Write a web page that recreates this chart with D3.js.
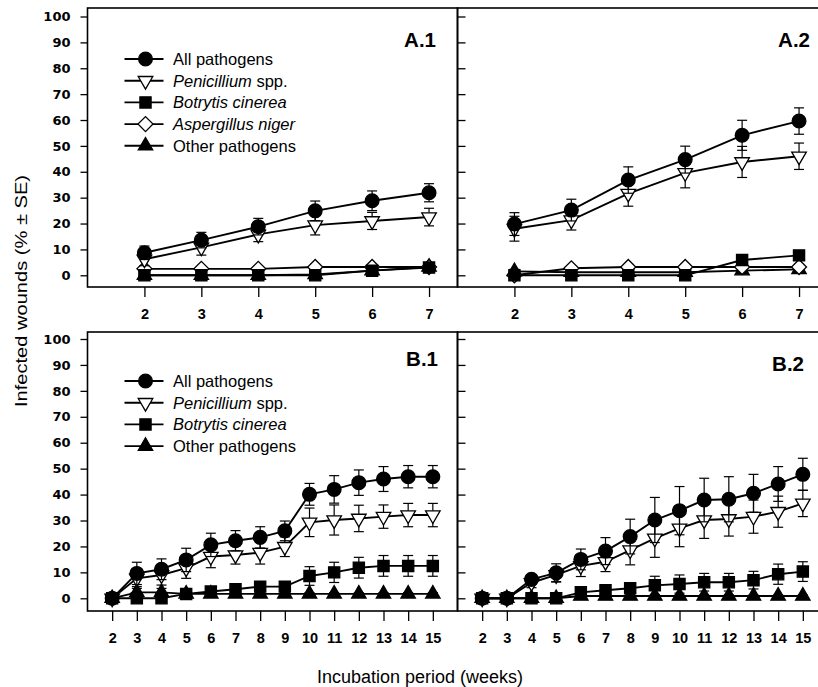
<!DOCTYPE html>
<html>
<head>
<meta charset="utf-8">
<script src="https://cdnjs.cloudflare.com/ajax/libs/d3/7.8.5/d3.min.js"></script>
<style>
  body { margin: 0; background: #fff; }
  svg { display: block; }
  .frame { fill: none; stroke: #000; stroke-width: 1.6; }
  .axis path { display: none; }
  .axis line { stroke: #000; stroke-width: 1.3; }
  .ylab text { font-family: "DejaVu Sans", sans-serif; font-weight: bold; font-size: 13px; fill: #000; }
  .xlab text { font-family: "Liberation Sans", Arial, sans-serif; font-weight: bold; font-size: 14.5px; fill: #000; }
  .series path.line { fill: none; stroke: #000; stroke-width: 1.9; }
  .err { stroke: #000; stroke-width: 1.2; }
  .legend text { font-family: "Liberation Sans", Arial, sans-serif; font-size: 16.5px; fill: #000; }
</style>
</head>
<body>
<div id="chart"></div>
<script>
// ---------------- DATA ----------------
var weeksA = [2, 3, 4, 5, 6, 7];
var weeksB = [2, 3, 4, 5, 6, 7, 8, 9, 10, 11, 12, 13, 14, 15];
var yTicks = [0, 10, 20, 30, 40, 50, 60, 70, 80, 90, 100];

// A.1
var a1All = [8.7, 13.6, 18.8, 24.9, 28.8, 31.9];
var a1AllSE = [2.6, 3.0, 3.2, 3.8, 3.8, 3.5];
var a1Pen = [6.2, 10.8, 15.8, 19.4, 21.0, 22.5];
var a1PenSE = [2.5, 3.0, 2.8, 3.8, 3.3, 3.4];
var a1Bot = [0, 0, 0, 0, 1.8, 3.0];
var a1BotSE = [0, 0, 0, 0, 0.8, 1.0];
var a1Asp = [2.5, 2.5, 2.5, 3.2, 3.2, 3.2];
var a1AspSE = [0.8, 0.8, 0.8, 1.0, 1.0, 1.0];
var a1Oth = [0, 0, 0, 0.3, 1.8, 3.2];
var a1OthSE = [0, 0, 0, 0.3, 0.8, 1.0];

// A.2
var a2All = [19.8, 25.2, 36.8, 44.7, 54.1, 59.6];
var a2AllSE = [4.4, 4.2, 5.1, 5.2, 5.8, 5.1];
var a2Pen = [18.0, 21.3, 31.6, 39.6, 43.8, 46.0];
var a2PenSE = [4.8, 3.8, 4.9, 5.8, 6.0, 5.1];
var a2Bot = [0, 0, 0, 0, 5.9, 7.7];
var a2BotSE = [0, 0, 0, 0, 1.2, 1.4];
var a2Asp = [0, 2.7, 3.2, 3.2, 3.2, 3.2];
var a2AspSE = [0, 0.9, 1.0, 1.0, 1.0, 1.0];
var a2Oth = [1.5, 1.2, 1.2, 1.2, 1.8, 2.3];
var a2OthSE = [0.8, 0.6, 0.6, 0.6, 0.8, 0.9];

// B.1
var b1All = [0, 9.6, 11.2, 14.8, 20.6, 22.2, 23.5, 26.0, 40.1, 42.0, 44.6, 46.0, 46.9, 46.9];
var b1AllSE = [0.5, 4.3, 4.0, 4.5, 4.5, 3.9, 4.1, 3.8, 4.2, 5.3, 4.9, 4.8, 4.3, 4.3];
var b1Pen = [0, 7.7, 9.0, 11.6, 16.1, 16.7, 17.6, 19.9, 29.3, 30.2, 30.8, 31.5, 32.1, 32.1];
var b1PenSE = [0.5, 3.2, 3.9, 3.9, 4.3, 3.5, 4.4, 3.8, 5.5, 5.8, 5.1, 4.5, 4.5, 4.5];
var b1Bot = [0, 0, 0, 1.7, 2.6, 3.5, 4.5, 4.5, 8.6, 10.0, 11.8, 12.5, 12.5, 12.5];
var b1BotSE = [0, 0, 0, 0.6, 0.8, 1.0, 1.2, 1.2, 3.6, 3.9, 4.0, 4.0, 4.0, 4.0];
var b1Oth = [0, 2.3, 2.3, 1.7, 1.7, 1.7, 1.7, 1.7, 1.7, 1.7, 1.7, 1.7, 1.7, 1.7];
var b1OthSE = [0, 1.5, 1.5, 0.5, 0.5, 0.5, 0.5, 0.5, 0.5, 0.5, 0.5, 0.5, 0.5, 0.5];

// B.2
var b2All = [0, 0, 7.3, 9.8, 15.0, 18.2, 23.8, 30.2, 33.8, 37.9, 38.2, 40.5, 44.1, 47.8];
var b2AllSE = [0.5, 0.5, 1.5, 3.5, 4.0, 5.2, 6.7, 8.7, 9.3, 8.4, 8.7, 7.3, 6.7, 6.2];
var b2Pen = [0, 0, 6.0, 9.0, 12.5, 14.1, 18.6, 23.1, 27.0, 30.2, 30.6, 31.5, 33.4, 36.6];
var b2PenSE = [0.5, 0.5, 1.9, 2.6, 4.1, 3.8, 5.7, 7.3, 7.1, 7.1, 6.6, 6.4, 6.0, 5.1];
var b2Bot = [0, 0, 0, 0, 2.3, 3.1, 3.9, 5.0, 5.5, 6.2, 6.2, 7.0, 9.3, 10.3];
var b2BotSE = [0, 0, 0, 0, 1.0, 1.2, 1.5, 3.5, 3.5, 3.4, 3.4, 3.4, 3.9, 3.8];
var b2Oth = [0, 0, 0, 0, 0.9, 0.9, 0.9, 0.9, 0.9, 0.9, 0.9, 0.9, 0.9, 0.9];
var b2OthSE = [0, 0, 0, 0, 0.4, 0.4, 0.4, 0.4, 0.4, 0.4, 0.4, 0.4, 0.4, 0.4];

// ---------------- CANVAS ----------------
var w = 818, h = 687;
var svg = d3.select("#chart").append("svg")
  .attr("width", w)
  .attr("height", h);

// marker styles, keyed by series name
var markers = {
  all: { type: d3.symbolCircle, size: 148, fill: "#000", rot: 0 },
  pen: { type: d3.symbolTriangle, size: 92, fill: "#fff", rot: 180 },
  bot: { type: d3.symbolSquare, size: 125, fill: "#000", rot: 0 },
  asp: { type: d3.symbolSquare, size: 112, fill: "#fff", rot: 45 },
  oth: { type: d3.symbolTriangle, size: 90, fill: "#000", rot: 0 }
};

function drawMarker(g, key, x, y) {
  var m = markers[key];
  g.append("path")
    .attr("d", d3.symbol().type(m.type).size(m.size)())
    .attr("transform", "translate(" + x + "," + y + ") rotate(" + m.rot + ")")
    .attr("fill", m.fill)
    .attr("stroke", "#000")
    .attr("stroke-width", 1.3);
}

// ---------------- PANELS ----------------
var panels = [
  { label: "A.1", x0: 87.5, top: 8, y100: 16.5, y0: 275.3, bottom: 287, xmax: 7.5, weeks: weeksA, yLabels: true,
    lab: [436, 47], legend: true,
    series: [["oth", a1Oth, a1OthSE], ["asp", a1Asp, a1AspSE], ["bot", a1Bot, a1BotSE], ["pen", a1Pen, a1PenSE], ["all", a1All, a1AllSE]] },
  { label: "A.2", x0: 457.5, top: 8, y100: 16.5, y0: 275.3, bottom: 287, xmax: 7.5, weeks: weeksA, yLabels: false,
    lab: [810, 47], legend: false,
    series: [["oth", a2Oth, a2OthSE], ["asp", a2Asp, a2AspSE], ["bot", a2Bot, a2BotSE], ["pen", a2Pen, a2PenSE], ["all", a2All, a2AllSE]] },
  { label: "B.1", x0: 87.5, top: 332, y100: 339, y0: 598.3, bottom: 611, xmax: 16, weeks: weeksB, yLabels: true,
    lab: [438, 366], legend: true,
    series: [["oth", b1Oth, b1OthSE], ["bot", b1Bot, b1BotSE], ["pen", b1Pen, b1PenSE], ["all", b1All, b1AllSE]] },
  { label: "B.2", x0: 457.5, top: 332, y100: 339, y0: 598.3, bottom: 611, xmax: 16, weeks: weeksB, yLabels: false,
    lab: [804, 371], legend: false,
    series: [["oth", b2Oth, b2OthSE], ["bot", b2Bot, b2BotSE], ["pen", b2Pen, b2PenSE], ["all", b2All, b2AllSE]] }
];

var legendNames = {
  all: [["All pathogens", false]],
  pen: [["Penicillium", true], [" spp.", false]],
  bot: [["Botrytis cinerea", true]],
  asp: [["Aspergillus niger", true]],
  oth: [["Other pathogens", false]]
};

panels.forEach(function(p) {
  var xScale = d3.scaleLinear().domain([1, p.xmax]).range([p.x0, p.x0 + 370]);
  var yScale = d3.scaleLinear().domain([0, 100]).range([p.y0, p.y100]);
  var g = svg.append("g");

  //FRAME
  g.append("rect")
    .attr("class", "frame")
    .attr("x", p.x0).attr("y", p.top)
    .attr("width", 370).attr("height", p.bottom - p.top);

  //Y AXIS
  if (p.yLabels) {
    g.append("g")
      .attr("class", "axis ylab")
      .attr("transform", "translate(" + p.x0 + ",0)")
      .call(d3.axisLeft(yScale).tickValues(yTicks).tickSize(7).tickSizeOuter(0).tickPadding(10));
  } else {
    g.append("g")
      .attr("class", "axis")
      .attr("transform", "translate(" + p.x0 + ",0)")
      .call(d3.axisRight(yScale).tickValues(yTicks).tickSize(8).tickSizeOuter(0).tickFormat(""));
  }

  //X AXIS
  g.append("g")
    .attr("class", "axis xlab")
    .attr("transform", "translate(0," + p.bottom + ")")
    .call(d3.axisBottom(xScale).tickValues(p.weeks).tickSize(10).tickSizeOuter(0).tickPadding(12).tickFormat(d3.format("d")));

  //SERIES
  var line = d3.line()
    .x(function(d, i) { return xScale(p.weeks[i]); })
    .y(function(d) { return yScale(d); });

  p.series.forEach(function(s) {
    var key = s[0], vals = s[1], se = s[2];
    var sg = g.append("g").attr("class", "series");
    vals.forEach(function(v, i) {
      if (se[i] <= 0) return;
      var x = xScale(p.weeks[i]);
      var y1 = yScale(v + se[i]), y2 = yScale(v - se[i]);
      sg.append("line").attr("class", "err").attr("x1", x).attr("x2", x).attr("y1", y1).attr("y2", y2);
      sg.append("line").attr("class", "err").attr("x1", x - 5).attr("x2", x + 5).attr("y1", y1).attr("y2", y1);
      sg.append("line").attr("class", "err").attr("x1", x - 5).attr("x2", x + 5).attr("y1", y2).attr("y2", y2);
    });
    sg.append("path").attr("class", "line").attr("d", line(vals));
    vals.forEach(function(v, i) {
      drawMarker(sg, key, xScale(p.weeks[i]), yScale(v));
    });
  });

  //PANEL LABEL
  g.append("text")
    .attr("x", p.lab[0]).attr("y", p.lab[1])
    .attr("text-anchor", "end")
    .style("font-family", "'Liberation Sans', Arial, sans-serif")
    .style("font-weight", "bold")
    .style("font-size", "20.5px")
    .text(p.label);

  //LEGEND
  if (p.legend) {
    var keys = p.series.map(function(s) { return s[0]; }).reverse();
    var ly0 = p.label == "A.1" ? 59 : 381;
    var lg = g.append("g").attr("class", "legend");
    keys.forEach(function(k, i) {
      var ly = ly0 + i * 21.7;
      lg.append("line")
        .attr("x1", p.x0 + 37).attr("x2", p.x0 + 76)
        .attr("y1", ly).attr("y2", ly)
        .attr("stroke", "#000").attr("stroke-width", 1.9);
      drawMarker(lg, k, p.x0 + 58, ly);
      var t = lg.append("text").attr("x", p.x0 + 85.5).attr("y", ly + 6);
      legendNames[k].forEach(function(part) {
        t.append("tspan").style("font-style", part[1] ? "italic" : "normal").text(part[0]);
      });
    });
  }
});

//AXIS TITLES
svg.append("text")
  .attr("transform", "translate(27,291) rotate(-90)")
  .attr("text-anchor", "middle")
  .attr("textLength", 232)
  .attr("lengthAdjust", "spacingAndGlyphs")
  .style("font-family", "'Liberation Sans', Arial, sans-serif")
  .style("font-size", "16px")
  .text("Infected wounds (% \u00b1 SE)");

svg.append("text")
  .attr("x", 420).attr("y", 683)
  .attr("text-anchor", "middle")
  .attr("textLength", 206)
  .attr("lengthAdjust", "spacingAndGlyphs")
  .style("font-family", "'Liberation Sans Narrow', 'Liberation Sans', Arial, sans-serif")
  .style("font-size", "18px")
  .text("Incubation period (weeks)");
</script>
</body>
</html>
